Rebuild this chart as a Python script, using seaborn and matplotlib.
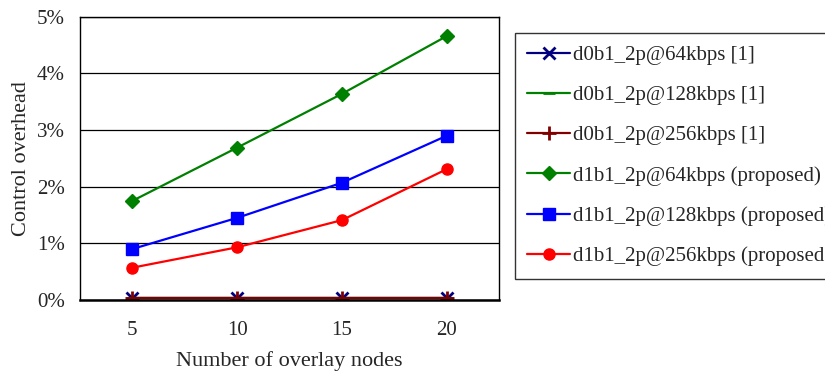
import pandas as pd
import seaborn as sns
import matplotlib.pyplot as plt
import matplotlib.ticker as mticker

# data
nodes = [5, 10, 15, 20]
series_names = [
    'd0b1_2p@64kbps [1]',
    'd0b1_2p@128kbps [1]',
    'd0b1_2p@256kbps [1]',
    'd1b1_2p@64kbps (proposed)',
    'd1b1_2p@128kbps (proposed)',
    'd1b1_2p@256kbps (proposed)',
]
d0_64 = [0.03, 0.03, 0.03, 0.03]
d0_128 = [0.03, 0.03, 0.03, 0.03]
d0_256 = [0.03, 0.03, 0.03, 0.03]
d1_64 = [1.75, 2.69, 3.64, 4.66]
d1_128 = [0.90, 1.45, 2.07, 2.90]
d1_256 = [0.57, 0.93, 1.41, 2.31]
all_values = [d0_64, d0_128, d0_256, d1_64, d1_128, d1_256]

colors = ['#000080', '#008000', '#800000', '#008000', '#0000FF', '#FF0000']
markers = ['x', '_', '+', 'D', 's', 'o']
msizes = [8, 9, 10, 7, 8, 8]

rows = []
for name, vals in zip(series_names, all_values):
    for n, v in zip(nodes, vals):
        rows.append({'Nodes': n, 'Overhead': v, 'Series': name})
df = pd.DataFrame(rows)

sns.set_style('white')
plt.rcParams['font.family'] = ['Liberation Serif', 'DejaVu Serif']

fig = plt.figure(figsize=(8.25, 3.74), dpi=100)
ax = fig.add_axes([0.097, 0.198, 0.508, 0.757])

for name, c, m, ms in zip(series_names, colors, markers, msizes):
    sub = df[df['Series'] == name]
    sns.lineplot(data=sub, x='Nodes', y='Overhead', ax=ax, color=c, marker=m,
                 markersize=ms, markeredgewidth=2 if m in ('x', '+', '_') else 1,
                 markeredgecolor=c, linewidth=1.6, label=name)

ax.set_xlim(2.5, 22.5)
ax.set_ylim(0, 5)
ax.set_xticks(nodes)
ax.set_xticks([7.5, 12.5, 17.5], minor=True)
ax.yaxis.set_major_formatter(mticker.FuncFormatter(lambda v, p: f'{v:.0f}%'))
ax.tick_params(axis='x', which='major', length=0, labelsize=15, pad=15)
ax.tick_params(axis='x', which='minor', direction='in', length=4, width=1, color='black')
ax.tick_params(axis='y', length=0, labelsize=15, pad=11)
ax.yaxis.grid(True, color='black', linewidth=0.9)
ax.set_axisbelow(True)
for s in ax.spines.values():
    s.set_color('black')
    s.set_linewidth(1.0)
ax.spines['bottom'].set_linewidth(1.8)
ax.set_xlabel('Number of overlay nodes', fontsize=16, labelpad=8.5)
ax.set_ylabel('Control overhead', fontsize=16, labelpad=4)

handles, labels = ax.get_legend_handles_labels()
ax.get_legend().remove()
leg = fig.legend(handles, labels, loc='upper left', bbox_to_anchor=(0.624, 0.912),
                 frameon=True, fancybox=False, edgecolor='black', fontsize=15,
                 labelspacing=0.99, handlelength=2.05, handletextpad=0.15,
                 borderpad=0.6, borderaxespad=0)
leg.get_frame().set_linewidth(1.0)

fig.savefig('out.png', dpi=100)
